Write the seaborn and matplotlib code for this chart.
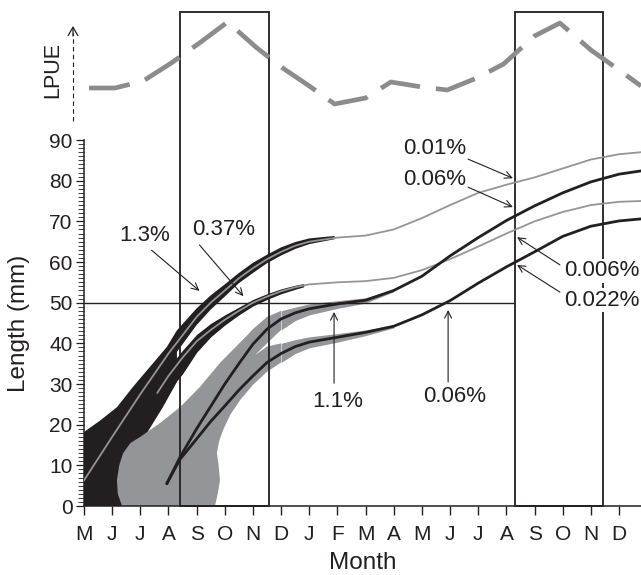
"""Cohort growth curves with LPUE strip above (months from May, year 1 to year 2)."""
import matplotlib
matplotlib.use("Agg")
import matplotlib.pyplot as plt
from matplotlib.lines import Line2D
from matplotlib.patches import Rectangle
from matplotlib.ticker import MultipleLocator
import numpy as np
import seaborn as sns

BLACK = "#231f20"
GRAY = "#939598"
LPUE_GRAY = "#8c8c8c"

# x axis: month index, 0 = May of year 1
month_labels = ["M", "J", "J", "A", "S", "O", "N", "D", "J", "F",
                "M", "A", "M", "J", "J", "A", "S", "O", "N", "D"]
X_MAX = 19.78
Y_MAX = 90
REF_LENGTH = 50
boxes = [(3.41, 6.57), (15.3, 18.43)]

# LPUE, relative units
lpue_month = [0.18, 1.1, 2.1, 3.1, 4.1, 5.1, 6.1, 7.0, 8.0, 8.9, 10.0,
              10.9, 12.0, 12.9, 13.95, 14.9, 16.0, 16.9, 18.0, 19.0, 19.78]
lpue_value = [32, 32, 39, 57, 77, 98, 73, 53, 34, 16, 22,
              38, 33, 30, 42, 56, 84, 97, 70, 50, 34]

# growth curves, length in mm
a_month = [0, 1, 2, 3, 3.5, 4, 4.5, 5, 5.5, 6, 6.5, 7, 7.5, 8, 9, 10,
           11, 12, 13, 14, 15, 16, 17, 18, 19, 19.78]
a_len = [6.3, 17, 27.5, 37.5, 42, 46.5, 50, 53, 56, 58.5, 60.7, 62.5, 64, 65, 66, 66.5,
         68, 70.8, 74, 77, 79, 80.8, 83, 85.2, 86.5, 87]

b_month = [2.6, 3, 3.5, 4, 4.5, 5, 5.5, 6, 6.5, 7, 7.5, 8, 9, 10,
           11, 12, 13, 14, 15, 16, 17, 18, 19, 19.78]
b_len = [27.8, 32, 36.5, 40.5, 43.3, 45.8, 48, 50, 51.5, 52.8, 53.8, 54.5, 55, 55.3,
         56.1, 58, 60.7, 63.8, 67, 70, 72.3, 74, 74.8, 75]

c_month = [2.94, 3.41, 4, 4.5, 5, 5.5, 6, 6.5, 7, 7.5, 8, 9, 10,
           11, 12, 13, 14, 15, 16, 17, 18, 19, 19.78]
c_len = [5.5, 12, 19, 24.5, 30, 35, 39.8, 43.5, 46, 47.5, 48.5, 49.7, 50.6,
         53, 56.5, 61.5, 66, 70.2, 73.8, 77, 79.7, 81.6, 82.4]

d_month = [2.94, 3.41, 4, 4.5, 5, 5.5, 6, 6.5, 7, 7.5, 8, 9, 10,
           11, 12, 13, 14, 15, 16, 17, 18, 19, 19.78]
d_len = [5.5, 11.5, 16.5, 20.8, 24.6, 28.5, 32, 35.3, 37.5, 39.2, 40.3, 41.5, 42.7,
         44.2, 47, 50.5, 54.8, 58.8, 62.5, 66.3, 68.8, 70.1, 70.6]

# black spread of the early cohort (outline of curve A band plus spawning blob)
black_month = [0, 0.57, 1.17, 1.74, 2.34, 2.94, 3.3, 4, 4.5, 5, 5.5, 6, 6.5, 7, 7.5, 8, 8.9,
               8.9, 8, 7.5, 7, 6.5, 6, 5.5, 5, 4.5, 4, 3.3,
               3.3, 2.8, 2.24, 2.0, 1.8, 1.8, 0]
black_len = [18.2, 21, 24.3, 29.3, 34.2, 39.1, 43.2, 48.6, 51.8, 54.5, 57.3, 59.8, 61.8, 63.6, 64.9, 65.8, 66.4,
             65.6, 64.4, 63.2, 61.6, 59.7, 57.3, 54.8, 51.5, 48.3, 44.5, 37.9,
             30.5, 24.3, 18, 14, 6, 0, 0]

# black band around curve B
b_band_month = [2.6, 3, 3.5, 4, 4.5, 5, 5.5, 6, 6.5, 7, 7.5, 7.8]
b_band_lo = [25.5, 28.3, 32.5, 37.8, 41.6, 44.5, 47.0, 49.2, 50.8, 52.2, 53.3, 53.9]
b_band_hi = [29.5, 34.0, 38.3, 42.2, 44.9, 47.0, 48.9, 50.8, 52.2, 53.4, 54.3, 54.7]

# gray spread of the late cohort (blob with the notch between curves C and D)
gray_month = [1.35, 4.65, 4.75, 4.83, 4.78, 4.72, 4.80, 4.94, 5.2, 5.54, 6.0, 6.5, 7.0,
              7.0, 6.5, 6.07, 6.5, 7.0,
              7.0, 6.5, 6.0, 5.8, 5.3, 4.83, 4.12, 3.41, 2.7, 2.0, 1.65, 1.39, 1.25, 1.17, 1.2]
gray_len = [0, 0, 3, 6.4, 10, 13, 16, 18.7, 22.5, 26, 29.8, 33.0, 35.3,
            40.0, 39.2, 37.1, 40.0, 43.3,
            48.0, 46.5, 43.5, 42.0, 38.5, 35.2, 29.3, 24.3, 20.4, 17, 15.5, 13, 10, 6.4, 3]

# gray halo around curves C and D after the split
halo_month = [7, 7.5, 8, 9, 10, 11]
c_halo_lo = [43.3, 45.6, 47.0, 48.6, 49.9, 52.7]
c_halo_hi = [48.0, 48.9, 49.7, 50.5, 51.2, 53.3]
d_halo_lo = [35.3, 37.5, 38.9, 40.3, 41.9, 43.8]
d_halo_hi = [40.0, 40.9, 41.6, 42.4, 43.3, 44.6]

# annotations: text, anchor, alignment, arrow tail, arrow head (month, mm)
ann_text = ["1.3%", "0.37%", "1.1%", "0.06%", "0.01%", "0.06%", "0.006%", "0.022%"]
ann_pos = [(2.17, 66.6), (4.95, 67.9), (9.0, 25.8), (13.17, 26.9),
           (12.46, 87.9), (12.46, 80.2), (19.74, 57.8), (19.74, 50.6)]
ann_ha = ["center", "center", "center", "center", "center", "center", "right", "right"]
ann_tail = [(2.40, 62.9), (4.10, 64.2), (8.88, 30.2), (12.93, 30.5),
            (13.64, 85.3), (13.64, 78.4), (16.9, 59.3), (16.9, 52.6)]
ann_head = [(4.10, 52.9), (5.66, 51.6), (8.88, 47.7), (12.93, 48.2),
            (15.23, 80.6), (15.23, 73.5), (15.38, 66.1), (15.38, 59.3)]

sns.set_theme(style="white")
plt.rcParams["font.family"] = ["Liberation Sans", "DejaVu Sans"]

W, H = 641, 575
fig = plt.figure(figsize=(W / 100, H / 100), dpi=100)
ax = fig.add_axes([84 / W, 69 / H, 557 / W, 366 / H])
ax_top = fig.add_axes([84 / W, 455 / H, 557 / W, 110 / H])

# --- main panel -------------------------------------------------------
ax.fill(gray_month, gray_len, color=GRAY, lw=0, zorder=1.2)
ax.fill_between(halo_month, c_halo_lo, c_halo_hi, color=GRAY, lw=0, zorder=1.2)
ax.fill_between(halo_month, d_halo_lo, d_halo_hi, color=GRAY, lw=0, zorder=1.2)
ax.fill(black_month, black_len, color=BLACK, lw=0, zorder=1.1)
ax.fill_between(b_band_month, b_band_lo, b_band_hi, color=BLACK, lw=0, zorder=1.3)

ax.hlines(REF_LENGTH, 0, boxes[1][0], color=BLACK, lw=1.0, zorder=2)
box_top = (506 - 12) / 366 * Y_MAX
for x0, x1 in boxes:
    ax.add_patch(Rectangle((x0, 0), x1 - x0, box_top, fill=False, ec=BLACK,
                           lw=1.3, clip_on=False, zorder=2.5))

sns.lineplot(x=a_month, y=a_len, ax=ax, color=GRAY, lw=1.3, estimator=None, sort=False, zorder=3)
sns.lineplot(x=b_month, y=b_len, ax=ax, color=GRAY, lw=1.3, estimator=None, sort=False, zorder=3)
sns.lineplot(x=c_month, y=c_len, ax=ax, color=BLACK, lw=2.0, estimator=None, sort=False, zorder=3)
sns.lineplot(x=d_month, y=d_len, ax=ax, color=BLACK, lw=2.0, estimator=None, sort=False, zorder=3)

for s, pos, ha, tail, head in zip(ann_text, ann_pos, ann_ha, ann_tail, ann_head):
    ax.annotate("", xy=head, xytext=tail,
                arrowprops=dict(arrowstyle="->,head_length=0.5,head_width=0.25",
                                color=BLACK, lw=0.8, shrinkA=0, shrinkB=0,
                                mutation_scale=10), zorder=4)
    ax.text(pos[0], pos[1], s, fontsize=16, color=BLACK, ha=ha, va="center", zorder=5,
            bbox=dict(fc="white", ec="none", pad=1) if ha == "right" else None)

ax.set_xlim(0, X_MAX)
ax.set_ylim(0, Y_MAX)
ax.set_xticks(range(len(month_labels)))
ax.set_xticklabels(month_labels)
ax.set_yticks(range(0, Y_MAX + 1, 10))
ax.yaxis.set_minor_locator(MultipleLocator(1))
ax.tick_params(axis="x", direction="out", length=6.5, width=1.0, pad=7.5,
               labelsize=15, colors=BLACK, bottom=True)
ax.tick_params(axis="y", which="major", direction="out", length=5.8, width=0.9,
               pad=2.5, labelsize=15, colors=BLACK, left=True)
ax.tick_params(axis="y", which="minor", direction="out", length=4.5, width=0.6,
               colors=BLACK, left=True)
for side in ("top", "right"):
    ax.spines[side].set_visible(False)
for side in ("left", "bottom"):
    ax.spines[side].set_color(BLACK)
    ax.spines[side].set_linewidth(1.1)

ax.set_xlabel("Month", fontsize=17.5, color=BLACK)
ax.xaxis.set_label_coords(0.5, (506 - 563) / 366)
ax.xaxis.label.set_verticalalignment("center")
ax.set_ylabel("Length (mm)", fontsize=17.5, color=BLACK)
ax.yaxis.set_label_coords((19 - 84) / 557, 0.5)
ax.yaxis.label.set_verticalalignment("center")

# --- LPUE strip -----------------------------------------------------------
sns.lineplot(x=lpue_month, y=lpue_value, ax=ax_top, color=LPUE_GRAY, lw=3.4,
             linestyle=(0, (8.7, 3.4)), estimator=None, sort=False)
ax_top.set_xlim(0, X_MAX)
ax_top.set_ylim(0, 110)
ax_top.set_facecolor("none")
ax_top.set_axis_off()

fig.add_artist(Line2D([73 / W, 73 / W], [1 - 121 / H, 1 - 33 / H], color=BLACK,
                      lw=0.8, linestyle=(0, (4, 3))))
ax_top.annotate("", xy=(73 / W, 1 - 26 / H), xycoords="figure fraction",
                xytext=(73 / W, 1 - 36 / H), textcoords="figure fraction",
                arrowprops=dict(arrowstyle="->,head_length=0.6,head_width=0.35",
                                color=BLACK, lw=0.9, shrinkA=0, shrinkB=0,
                                mutation_scale=10))
fig.text(53 / W, 1 - 70 / H, "LPUE", rotation=90, ha="center", va="center",
         fontsize=15.5, color=BLACK)

fig.savefig("out.png", dpi=100)
